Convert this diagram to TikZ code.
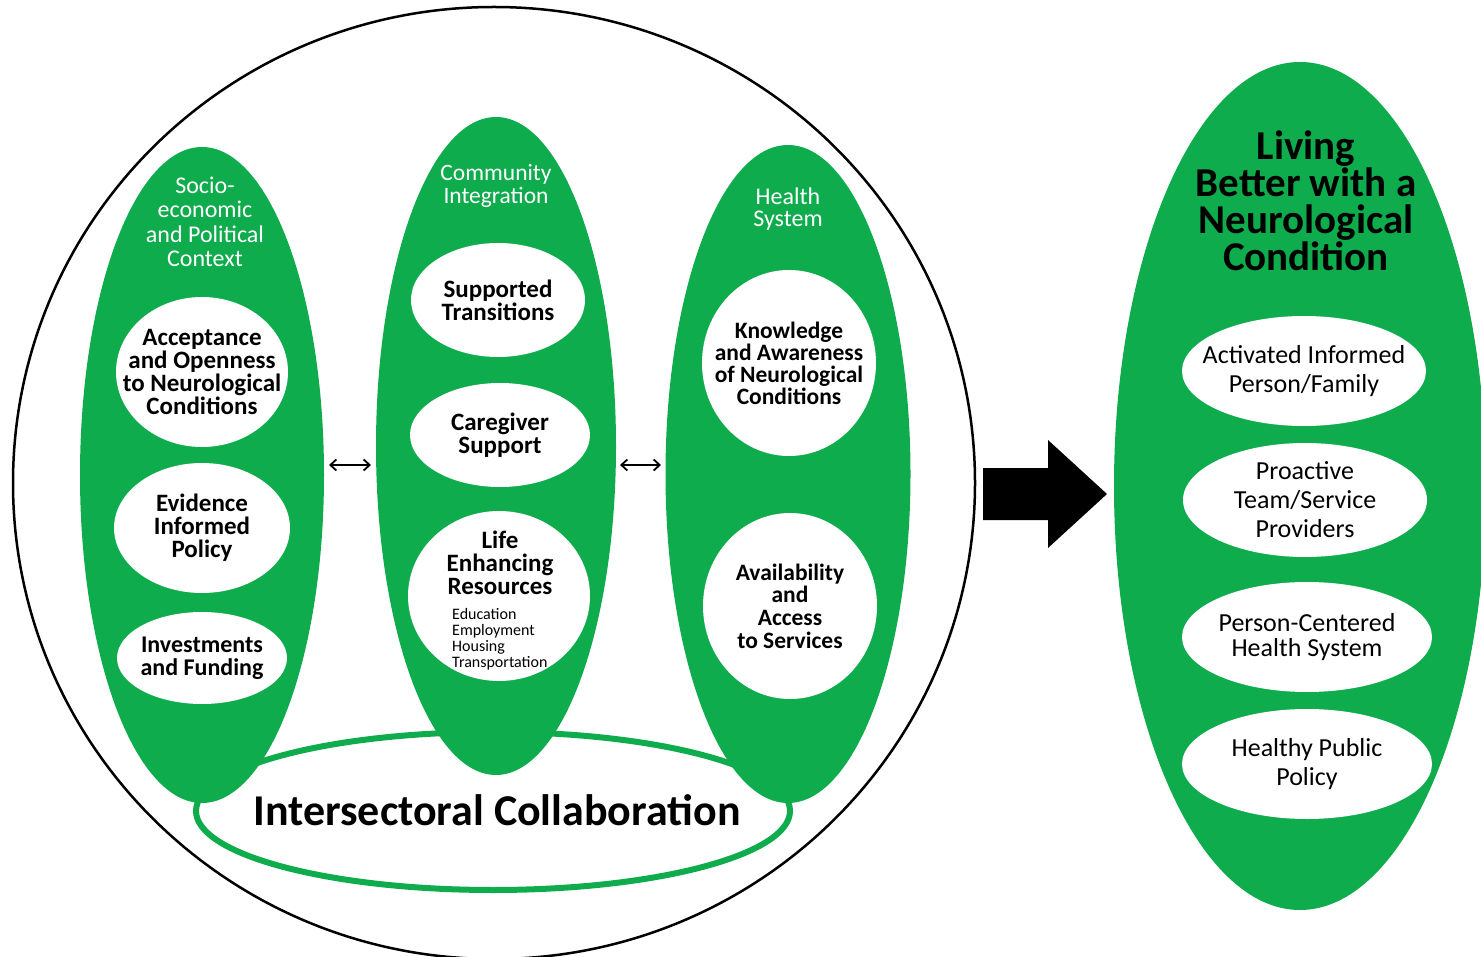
\documentclass[tikz,border=0pt]{standalone}
\usepackage{fontspec}
\setmainfont{Carlito}
\usetikzlibrary{shapes.geometric,arrows.meta}
\definecolor{leafgreen}{RGB}{14,172,76}
\tikzset{
	pillar/.style={ellipse, fill=leafgreen, inner sep=0pt},
	bubble/.style={ellipse, fill=white, inner sep=0pt},
	head/.style={text=white, align=center, inner sep=0pt, font=\fontsize{24}{24.5}\selectfont},
	strong/.style={align=center, inner sep=0pt, font=\bfseries\fontsize{25}{23}\selectfont},
	plain/.style={align=center, inner sep=0pt, font=\fontsize{26}{29}\selectfont},
	twoway/.style={{Straight Barb[length=6pt,width=11pt]}-{Straight Barb[length=6pt,width=11pt]}, line width=1.8pt},
}
\begin{document}
\begin{tikzpicture}[x=1pt,y=-1pt]
	\useasboundingbox (0,0) rectangle (1481,957);
	% outer frame and collaboration ring
	\draw[line width=2.5pt] (494,483) ellipse (481 and 476);
	\draw[leafgreen, line width=6pt] (493,811) ellipse (297 and 79);
	% columns
	\node[pillar, minimum width=244pt, minimum height=656pt] (socio) at (202,475) {};
	\node[pillar, minimum width=240pt, minimum height=658pt] (comm) at (496,446) {};
	\node[pillar, minimum width=245pt, minimum height=658pt] (health) at (788,474) {};
	\node[pillar, minimum width=372pt, minimum height=848pt] (living) at (1300,486) {};
	\node[head] (socio-t) at (205,222) {Socio-\\economic\\and Political\\Context};
	\node[head, font=\fontsize{23.5}{22.5}\selectfont] (comm-t) at (496,186) {Community\\Integration};
	\node[head, font=\fontsize{24}{22}\selectfont] (health-t) at (788,209) {Health\\System};
	\node[align=center, inner sep=0pt, font=\bfseries\fontsize{41}{37}\selectfont] (living-t) at (1306,201) {Living\\Better with a\\Neurological\\Condition};
	% socio-economic context
	\node[bubble, minimum width=172pt, minimum height=150pt] (accept) at (202,372) {};
	\node[strong] (accept-t) at (accept) {Acceptance\\and Openness\\to Neurological\\Conditions};
	\node[bubble, minimum width=176pt, minimum height=130pt] (policy) at (202,528) {};
	\node[strong] (policy-t) at (policy) {Evidence\\Informed\\Policy};
	\node[bubble, minimum width=170pt, minimum height=92pt] (invest) at (202,658) {};
	\node[strong, font=\bfseries\fontsize{24}{23}\selectfont] (invest-t) at (invest) {Investments\\and Funding};
	% community integration
	\node[bubble, minimum width=174pt, minimum height=114pt] (trans) at (498,300) {};
	\node[strong] (trans-t) at (trans) {Supported\\Transitions};
	\node[bubble, minimum width=180pt, minimum height=104pt] (care) at (500,435) {};
	\node[strong] (care-t) at (care) {Caregiver\\Support};
	\node[bubble, minimum width=182pt, minimum height=170pt] (life) at (499,596) {};
	\node[strong] (life-t) at (500,563) {Life\\Enhancing\\Resources};
	\node[align=left, anchor=west, inner sep=0pt, font=\fontsize{16}{16}\selectfont] (life-l) at (452,639) {Education\\Employment\\Housing\\Transportation};
	% health system
	\node[bubble, minimum width=174pt, minimum height=186pt] (know) at (789,363) {};
	\node[strong, font=\bfseries\fontsize{23.5}{22}\selectfont] (know-t) at (know) {Knowledge\\and Awareness\\of Neurological\\Conditions};
	\node[bubble, minimum width=174pt, minimum height=186pt] (access) at (790,606) {};
	\node[strong, font=\bfseries\fontsize{23.5}{22.7}\selectfont] (access-t) at (access) {Availability\\and\\Access\\to Services};
	% outcomes
	\node[bubble, minimum width=244pt, minimum height=110pt] (person) at (1304,371) {};
	\node[plain] (person-t) at (person) {Activated Informed\\Person/Family};
	\node[bubble, minimum width=244pt, minimum height=114pt] (team) at (1305,500) {};
	\node[plain] (team-t) at (team) {Proactive\\Team/Service\\Providers};
	\node[bubble, minimum width=250pt, minimum height=110pt] (system) at (1307,637) {};
	\node[plain, font=\fontsize{26}{25}\selectfont] (system-t) at (system) {Person-Centered\\Health System};
	\node[bubble, minimum width=250pt, minimum height=110pt] (public) at (1307,764) {};
	\node[plain] (public-t) at (public) {Healthy Public\\Policy};
	% collaboration label
	\node[inner sep=0pt, font=\bfseries\fontsize{44}{44}\selectfont] (collab) at (497,810) {Intersectoral Collaboration};
	% links between columns
	\coordinate (s-e) at (329,465);
	\coordinate (c-w) at (371,465);
	\coordinate (c-e) at (620,465);
	\coordinate (h-w) at (661,465);
	\draw[twoway] (s-e) -- (c-w);
	\draw[twoway] (c-e) -- (h-w);
	% block arrow
	\fill (983,468) -- (1048,468) -- (1048,440) -- (1107,494) -- (1048,548) -- (1048,520) -- (983,520) -- cycle;
\end{tikzpicture}
\end{document}
